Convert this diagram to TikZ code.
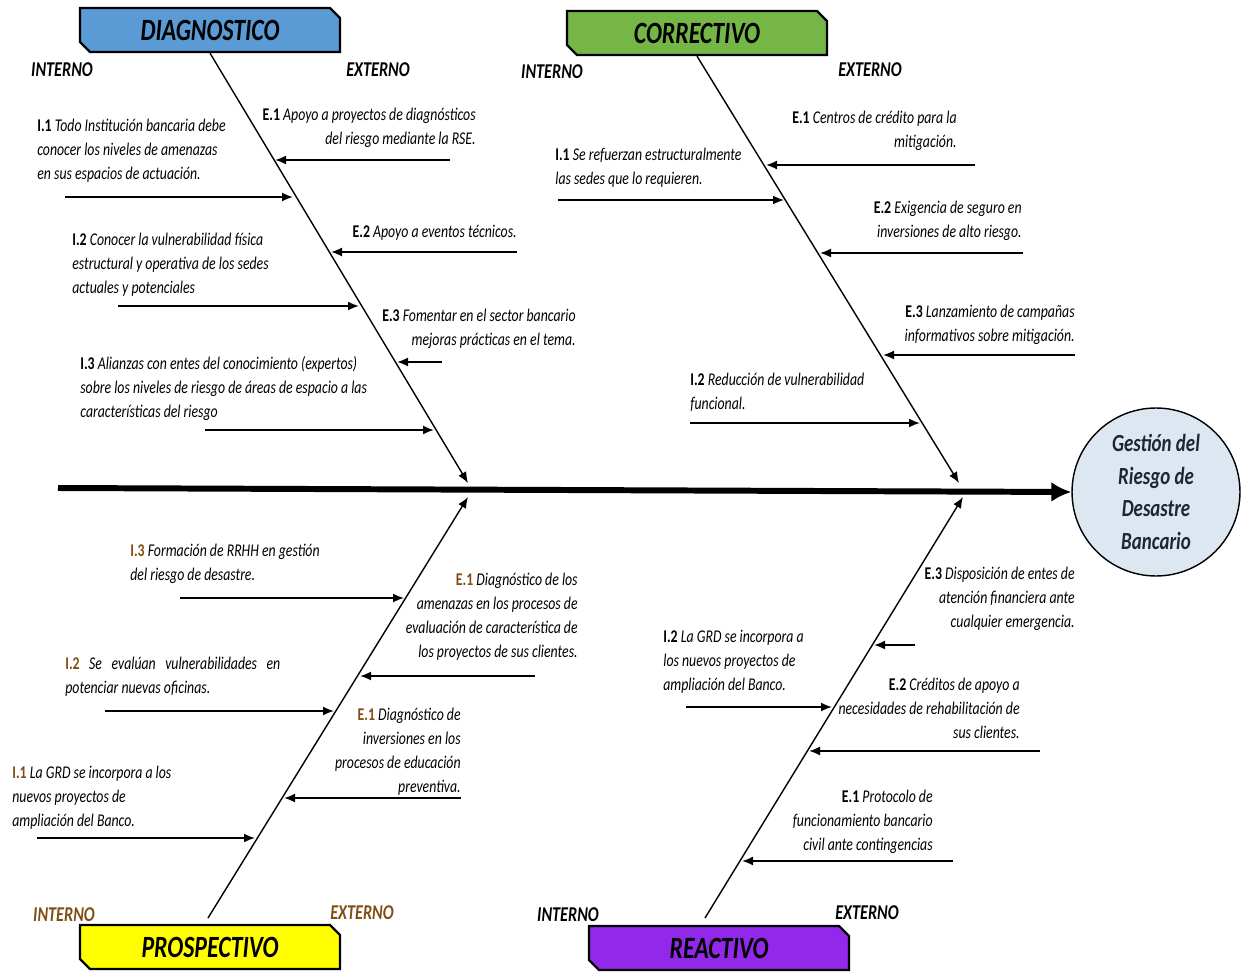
\documentclass[tikz,border=0pt]{standalone}
\usepackage{fontspec}
\setmainfont{Carlito}[FakeStretch=0.77]
\usetikzlibrary{arrows.meta,shapes.misc}
\definecolor{diagblue}{RGB}{91,155,213}
\definecolor{corrgreen}{RGB}{118,182,70}
\definecolor{prosyellow}{RGB}{255,255,0}
\definecolor{reacpurple}{RGB}{146,40,234}
\definecolor{goalfill}{RGB}{221,231,242}
\definecolor{goaltext}{RGB}{30,38,52}
\definecolor{prosbrown}{RGB}{128,78,18}
\newcommand{\lbl}[1]{\textbf{\upshape #1}}
\newcommand{\plbl}[1]{\textcolor{prosbrown}{\lbl{#1}}}

\begin{document}
\begin{tikzpicture}[
    x=0.02cm, y=-0.02cm,
    head/.style={chamfered rectangle, chamfered rectangle corners={north east,south west},
                 chamfered rectangle xsep=0.1cm, chamfered rectangle ysep=0.1cm,
                 draw, line width=1.3pt, minimum width=5.2cm, minimum height=0.88cm,
                 inner sep=0pt, font=\fontsize{17.6}{20}\selectfont\bfseries\itshape},
    side/.style={font=\fontsize{12}{14}\selectfont\bfseries\itshape},
    item/.style={font=\fontsize{10.2}{13.6}\selectfont\itshape, inner sep=0pt},
    iteml/.style={item, anchor=north west, align=left},
    itemr/.style={item, anchor=north east, align=right},
    arr/.style={-{Latex[length=2.2mm,width=1.8mm]}, line width=1pt},
    bone/.style={-{Latex[length=2.2mm,width=1.8mm]}, line width=0.8pt},
    spine/.style={-{Latex[length=4mm,width=4mm]}, line width=3.4pt}
]
\useasboundingbox (0,0) rectangle (1241,973);

% category boxes
\node[head, fill=diagblue] (diag) at (210,30) {DIAGNOSTICO};
\node[head, fill=corrgreen] (corr) at (697,33) {CORRECTIVO};
\node[head, fill=prosyellow] (pros) at (210,947) {PROSPECTIVO};
\node[head, fill=reacpurple] (reac) at (719,948) {REACTIVO};

% effect
\node[circle, draw, line width=0.8pt, fill=goalfill, minimum size=3.36cm, align=center,
      text=goaltext, font=\fontsize{14}{18.7}\selectfont\bfseries\itshape] (goal) at (1156,492)
      {Gestión del\\Riesgo de\\Desastre\\Bancario};

% spine and bones
\coordinate (tail) at (58,488);
\coordinate (dtip) at (468,483);
\coordinate (ctip) at (959,483);
\coordinate (ptip) at (468,497);
\coordinate (rtip) at (963,497);
\coordinate (pbase) at (208,918);
\coordinate (rbase) at (705,918);
\draw[spine] (tail) -- (goal.west);
\draw[bone] (diag.south) -- (dtip);
\draw[bone] (corr.south) -- (ctip);
\draw[bone] (pbase) -- (ptip);
\draw[bone] (rbase) -- (rtip);

% interno / externo
\node[side] (dint) at (62,70) {INTERNO};
\node[side] (dext) at (378,70) {EXTERNO};
\node[side] (cint) at (552,72) {INTERNO};
\node[side] (cext) at (870,70) {EXTERNO};
\node[side, text=prosbrown] (pint) at (64,915) {INTERNO};
\node[side, text=prosbrown] (pext) at (362,913) {EXTERNO};
\node[side] (rint) at (568,915) {INTERNO};
\node[side] (rext) at (867,913) {EXTERNO};

% diagnostico
\node[iteml] (di1) at (37,119) {\lbl{I.1} Todo Institución bancaria debe\\conocer los niveles de amenazas\\en sus espacios de actuación.};
\node[itemr] (de1) at (476,108) {\lbl{E.1} Apoyo a proyectos de diagnósticos\\del riesgo mediante la RSE.};
\node[itemr] (de2) at (517,225) {\lbl{E.2} Apoyo a eventos técnicos.};
\node[iteml] (di2) at (72,233) {\lbl{I.2} Conocer la vulnerabilidad física\\estructural y operativa de los sedes\\actuales y potenciales};
\node[itemr] (de3) at (576,309) {\lbl{E.3} Fomentar en el sector bancario\\mejoras prácticas en el tema.};
\node[iteml] (di3) at (80,356) {\lbl{I.3} Alianzas con entes del conocimiento (expertos)\\sobre los niveles de riesgo de áreas de espacio a las\\características del riesgo};
\coordinate (di1a) at (65,197);  \coordinate (di1b) at (293,197);
\coordinate (de1a) at (450,160); \coordinate (de1b) at (275,160);
\coordinate (de2a) at (517,252); \coordinate (de2b) at (331,252);
\coordinate (di2a) at (118,306); \coordinate (di2b) at (359,306);
\coordinate (de3a) at (442,362); \coordinate (de3b) at (397,362);
\coordinate (di3a) at (205,430); \coordinate (di3b) at (434,430);
\draw[arr] (di1a) -- (di1b);
\draw[arr] (de1a) -- (de1b);
\draw[arr] (de2a) -- (de2b);
\draw[arr] (di2a) -- (di2b);
\draw[arr] (de3a) -- (de3b);
\draw[arr] (di3a) -- (di3b);

% correctivo
\node[itemr] (ce1) at (957,111) {\lbl{E.1} Centros de crédito para la\\mitigación.};
\node[iteml] (ci1) at (555,148) {\lbl{I.1} Se refuerzan estructuralmente\\las sedes que lo requieren.};
\node[itemr] (ce2) at (1022,201) {\lbl{E.2} Exigencia de seguro en\\inversiones de alto riesgo.};
\node[itemr] (ce3) at (1075,305) {\lbl{E.3} Lanzamiento de campañas\\informativos sobre mitigación.};
\node[iteml] (ci2) at (690,373) {\lbl{I.2} Reducción de vulnerabilidad\\funcional.};
\coordinate (ce1a) at (975,165);  \coordinate (ce1b) at (766,165);
\coordinate (ci1a) at (558,200);  \coordinate (ci1b) at (784,200);
\coordinate (ce2a) at (1023,253); \coordinate (ce2b) at (820,253);
\coordinate (ce3a) at (1075,355); \coordinate (ce3b) at (883,355);
\coordinate (ci2a) at (690,423);  \coordinate (ci2b) at (920,423);
\draw[arr] (ce1a) -- (ce1b);
\draw[arr] (ci1a) -- (ci1b);
\draw[arr] (ce2a) -- (ce2b);
\draw[arr] (ce3a) -- (ce3b);
\draw[arr] (ci2a) -- (ci2b);

% prospectivo
\node[iteml] (pi3) at (130,544) {\plbl{I.3} Formación de RRHH en gestión\\del riesgo de desastre.};
\node[itemr] (pe1) at (578,573) {\plbl{E.1} Diagnóstico de los\\amenazas en los procesos de\\evaluación de característica de\\los proyectos de sus clientes.};
\node[iteml] (pi2) at (65,657) {\makebox[4.3cm][s]{\plbl{I.2} Se evalúan vulnerabilidades en}\\potenciar nuevas oficinas.};
\node[itemr] (pe2) at (461,708) {\plbl{E.1} Diagnóstico de\\inversiones en los\\procesos de educación\\preventiva.};
\node[iteml] (pi1) at (12,766) {\plbl{I.1} La GRD se incorpora a los\\nuevos proyectos de\\ampliación del Banco.};
\coordinate (pi3a) at (180,598); \coordinate (pi3b) at (404,598);
\coordinate (pe1a) at (535,676); \coordinate (pe1b) at (360,676);
\coordinate (pi2a) at (105,711); \coordinate (pi2b) at (334,711);
\coordinate (pe2a) at (461,798); \coordinate (pe2b) at (284,798);
\coordinate (pi1a) at (37,838);  \coordinate (pi1b) at (255,838);
\draw[arr] (pi3a) -- (pi3b);
\draw[arr] (pe1a) -- (pe1b);
\draw[arr] (pi2a) -- (pi2b);
\draw[arr] (pe2a) -- (pe2b);
\draw[arr] (pi1a) -- (pi1b);

% reactivo
\node[itemr] (re3) at (1075,567) {\lbl{E.3} Disposición de entes de\\atención financiera ante\\cualquier emergencia.};
\node[iteml] (ri2) at (663,630) {\lbl{I.2} La GRD se incorpora a\\los nuevos proyectos de\\ampliación del Banco.};
\node[itemr] (re2) at (1020,678) {\lbl{E.2} Créditos de apoyo a\\necesidades de rehabilitación de\\sus clientes.};
\node[itemr] (re1) at (933,790) {\lbl{E.1} Protocolo de\\funcionamiento bancario\\civil ante contingencias};
\coordinate (re3a) at (915,645);  \coordinate (re3b) at (874,645);
\coordinate (ri2a) at (686,707);  \coordinate (ri2b) at (832,707);
\coordinate (re2a) at (1040,751); \coordinate (re2b) at (809,751);
\coordinate (re1a) at (953,861);  \coordinate (re1b) at (742,861);
\draw[arr] (re3a) -- (re3b);
\draw[arr] (ri2a) -- (ri2b);
\draw[arr] (re2a) -- (re2b);
\draw[arr] (re1a) -- (re1b);
\end{tikzpicture}
\end{document}
